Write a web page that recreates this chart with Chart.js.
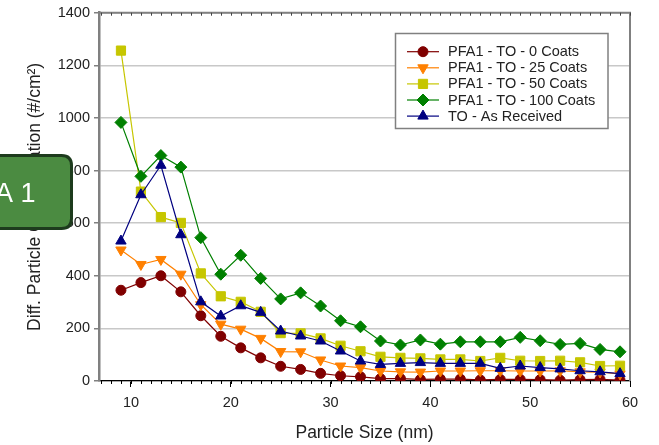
<!DOCTYPE html>
<html>
<head>
<meta charset="utf-8">
<script src="https://cdn.jsdelivr.net/npm/chart.js@4/dist/chart.umd.min.js"></script>
<style>
  html, body { margin: 0; padding: 0; background: #fff; }
  #wrap { width: 659px; height: 445px; position: relative; }
</style>
</head>
<body>
<div id="wrap"><canvas id="c" width="659" height="445"></canvas></div>
<script>
// Particle size bins (nm)
const sizes = [9, 11, 13, 15, 17, 19, 21, 23, 25, 27, 29, 31, 33, 35, 37, 39, 41, 43, 45, 47, 49, 51, 53, 55, 57, 59];

// Differential particle concentration (#/cm²) per size bin
const coats0 = [345, 374, 400, 339, 248, 170, 126, 88, 56, 44, 29, 20, 16, 9, 9, 6, 7, 7, 4, 6, 6, 5, 3, 5, 6, 3];
const coats25 = [498, 443, 462, 406, 290, 216, 197, 162, 112, 111, 80, 57, 51, 38, 35, 34, 38, 38, 39, 39, 38, 38, 39, 35, 34, 27];
const coats50 = [1256, 720, 623, 601, 409, 322, 301, 263, 182, 181, 162, 134, 113, 92, 88, 86, 82, 82, 76, 88, 77, 76, 77, 71, 57, 58];
const coats100 = [983, 778, 857, 813, 545, 406, 478, 390, 312, 335, 285, 229, 206, 152, 137, 156, 140, 149, 149, 149, 166, 153, 139, 143, 120, 111];
const asReceived = [532, 708, 820, 556, 301, 247, 286, 261, 190, 171, 152, 114, 76, 63, 67, 70, 67, 67, 67, 48, 57, 51, 46, 39, 35, 28];

const seriesLabels = ['PFA1 - TO - 0 Coats', 'PFA1 - TO - 25 Coats', 'PFA1 - TO - 50 Coats', 'PFA1 - TO - 100 Coats', 'TO - As Received'];
const xTickValues = [10, 20, 30, 40, 50, 60];
const yTickValues = [0, 200, 400, 600, 800, 1000, 1200, 1400];

const FONT = "'Liberation Sans', Arial, Helvetica, sans-serif";
Chart.defaults.font.family = FONT;
Chart.defaults.color = '#222';

function toPoints(vals) {
  return sizes.map((s, i) => ({ x: s, y: vals[i] }));
}

function series(label, vals, color, style, radius, rotation, order) {
  return {
    label,
    data: toPoints(vals),
    borderColor: color,
    backgroundColor: color,
    pointBackgroundColor: color,
    pointBorderColor: color,
    pointStyle: style,
    pointRadius: radius,
    pointRotation: rotation,
    pointBorderWidth: 1,
    borderWidth: 1.2,
    tension: 0,
    order
  };
}

const datasets = [
  series(seriesLabels[0], coats0, '#800000', 'circle', 5, 0, 4),
  series(seriesLabels[1], coats25, '#ff8000', 'triangle', 6, 180, 3),
  series(seriesLabels[2], coats50, '#c6c600', 'rect', 6.5, 0, 2),
  series(seriesLabels[3], coats100, '#008000', 'rectRot', 6, 0, 1),
  series(seriesLabels[4], asReceived, '#000080', 'triangle', 6, 0, 0)
];

// Plot frame: top/right borders plus minor ticks along the x axes
const framePlugin = {
  id: 'frame',
  beforeDatasetsDraw(chart) {
    const { ctx, chartArea: a, scales: { x } } = chart;
    ctx.save();
    ctx.strokeStyle = '#808080';
    ctx.lineWidth = 2;
    ctx.beginPath();
    ctx.moveTo(a.left, a.top);
    ctx.lineTo(a.right, a.top);
    ctx.lineTo(a.right, a.bottom);
    ctx.stroke();
    ctx.lineWidth = 1;
    for (let v = 7; v <= 60; v++) {
      const px = Math.round(x.getPixelForValue(v)) + 0.5;
      ctx.strokeStyle = '#000';
      ctx.beginPath();
      ctx.moveTo(px, a.bottom);
      ctx.lineTo(px, a.bottom + 3);
      ctx.stroke();
      ctx.strokeStyle = '#444';
      ctx.beginPath();
      ctx.moveTo(px, a.top);
      ctx.lineTo(px, a.top + 3);
      ctx.stroke();
    }
    ctx.restore();
  }
};

// Boxed legend inside the plot and the "A 1" tag
const overlayPlugin = {
  id: 'overlay',
  afterDraw(chart) {
    const { ctx } = chart;
    ctx.save();
    // legend box
    const bx = 395.5, by = 33.5, bw = 212.5, bh = 95;
    ctx.fillStyle = '#fff';
    ctx.fillRect(bx, by, bw, bh);
    ctx.strokeStyle = '#808080';
    ctx.lineWidth = 1.5;
    ctx.strokeRect(bx, by, bw, bh);
    chart.data.datasets.forEach((ds, i) => {
      const cy = 51.7 + i * 16.1;
      ctx.strokeStyle = ds.borderColor;
      ctx.lineWidth = 1.2;
      ctx.beginPath();
      ctx.moveTo(407, cy);
      ctx.lineTo(439, cy);
      ctx.stroke();
      ctx.fillStyle = ds.backgroundColor;
      ctx.strokeStyle = ds.borderColor;
      ctx.lineWidth = 1;
      Chart.helpers.drawPoint(ctx, {
        pointStyle: ds.pointStyle,
        radius: ds.pointRadius,
        rotation: ds.pointRotation,
        borderWidth: 1
      }, 423, cy);
      ctx.fillStyle = '#222';
      ctx.font = '14.5px ' + FONT;
      ctx.textBaseline = 'middle';
      ctx.textAlign = 'left';
      ctx.fillText(ds.label, 448, cy + 0.5);
    });

    // green tag
    const tx = -20, ty = 155.5, tw = 91.5, th = 73, r = 10;
    ctx.beginPath();
    ctx.moveTo(tx + r, ty);
    ctx.lineTo(tx + tw - r, ty);
    ctx.quadraticCurveTo(tx + tw, ty, tx + tw, ty + r);
    ctx.lineTo(tx + tw, ty + th - r);
    ctx.quadraticCurveTo(tx + tw, ty + th, tx + tw - r, ty + th);
    ctx.lineTo(tx + r, ty + th);
    ctx.quadraticCurveTo(tx, ty + th, tx, ty + th - r);
    ctx.lineTo(tx, ty + r);
    ctx.quadraticCurveTo(tx, ty, tx + r, ty);
    ctx.closePath();
    ctx.fillStyle = '#4b8b41';
    ctx.fill();
    ctx.strokeStyle = '#1d3b1d';
    ctx.lineWidth = 3;
    ctx.stroke();
    ctx.fillStyle = '#fff';
    ctx.font = '27px ' + FONT;
    ctx.textBaseline = 'alphabetic';
    ctx.textAlign = 'left';
    ctx.fillText('A 1', -5, 202.3);
    ctx.restore();
  }
};

new Chart(document.getElementById('c'), {
  type: 'line',
  data: { datasets },
  plugins: [framePlugin, overlayPlugin],
  options: {
    responsive: false,
    animation: false,
    devicePixelRatio: 1,
    layout: { padding: { top: 12, right: 29, left: 0, bottom: 0 } },
    plugins: { legend: { display: false }, tooltip: { enabled: false } },
    scales: {
      x: {
        type: 'linear',
        min: 6.8,
        max: 60,
        afterBuildTicks(scale) { scale.ticks = xTickValues.map(v => ({ value: v })); },
        afterFit(scale) { scale.height = 64; },
        grid: { display: true, drawOnChartArea: false, drawTicks: true, tickLength: 6, color: '#000', lineWidth: 1 },
        border: { display: true, color: '#000', width: 1.2 },
        ticks: { padding: 7, autoSkip: false, maxRotation: 0, font: { size: 14.5 }, color: '#222', callback: v => String(v) },
        title: { display: true, text: 'Particle Size (nm)', font: { size: 17.5 }, color: '#222', padding: { top: 0, bottom: 1.5 } }
      },
      y: {
        type: 'linear',
        min: 0,
        max: 1400,
        afterBuildTicks(scale) { scale.ticks = yTickValues.map(v => ({ value: v })); },
        afterFit(scale) { scale.width = 99; },
        grid: { color: '#c8c8c8', lineWidth: 1.5, drawTicks: true, tickLength: 5, tickColor: '#808080', tickWidth: 1.5 },
        border: { display: true, color: '#808080', width: 2.5 },
        ticks: { padding: 4, font: { size: 14.5 }, color: '#222', callback: v => String(v) },
        title: { display: true, text: 'Diff. Particle Concentration (#/cm²)', font: { size: 17.5 }, color: '#222', padding: { top: 25, bottom: 0 } }
      }
    }
  }
});
</script>
</body>
</html>
